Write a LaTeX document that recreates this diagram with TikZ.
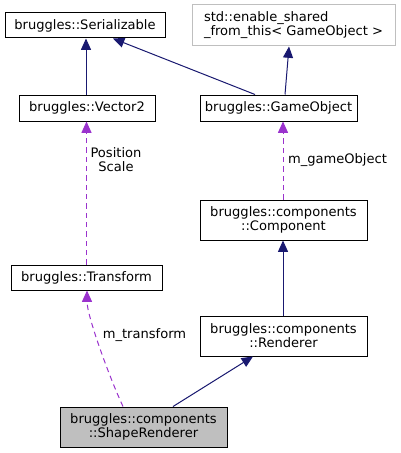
\documentclass[tikz,border=0pt]{standalone}
\usepackage{fontspec}
\setmainfont{DejaVu Sans}
\usepackage{tikz}
\usetikzlibrary{arrows.meta,positioning,calc}
\definecolor{inhnavy}{HTML}{191970}
\definecolor{usepurple}{HTML}{9A32CD}
\definecolor{extgray}{HTML}{BFBFBF}
\definecolor{selfgray}{HTML}{BFBFBF}
\newcommand{\dxfont}{\fontsize{9.8}{10.6}\selectfont}
\tikzset{
  classbox/.style={draw=black,fill=white,line width=0.75pt,inner sep=0pt,
    align=center,font=\dxfont},
  extbox/.style={classbox,draw=extgray,align=left},
  selfbox/.style={classbox,fill=selfgray},
  inherit/.style={-{Triangle[length=8.5pt,width=7.5pt]},draw=inhnavy,line width=0.75pt},
  usage/.style={-{Triangle[length=8.5pt,width=7.5pt]},draw=usepurple,line width=0.75pt,
    dash pattern=on 4pt off 3pt},
  edgelabel/.style={font=\dxfont,inner sep=0pt,align=center}
}

\begin{document}
\begin{tikzpicture}[x=0.75pt,y=-0.75pt]
\useasboundingbox (0,0) rectangle (400,453);

\node[classbox, minimum width=120pt, minimum height=18.75pt] (ser) at (85,25.5) {bruggles::Serializable};
\node[extbox, minimum width=152.25pt, minimum height=30.75pt] (enable) at (293.5,25.5) {std::enable\_shared\\\_from\_this< GameObject >};
\node[classbox, minimum width=102pt, minimum height=19.5pt] (vec) at (87,108) {bruggles::Vector2};
\node[classbox, minimum width=117.75pt, minimum height=19.5pt] (gobj) at (278.5,108) {bruggles::GameObject};
\node[classbox, minimum width=125.25pt, minimum height=30pt] (comp) at (283.5,220) {bruggles::components\\::Component};
\node[classbox, minimum width=113.25pt, minimum height=18.75pt] (trans) at (86.5,277.5) {bruggles::Transform};
\node[classbox, minimum width=125.25pt, minimum height=30pt] (rend) at (283.5,336) {bruggles::components\\::Renderer};
\node[selfbox, minimum width=125.25pt, minimum height=30pt] (shape) at (143.5,427) {bruggles::components\\::ShapeRenderer};

\node[edgelabel] (lblposscale) at (116,160) {Position\\Scale};
\node[edgelabel] (lblgobj) at (337.5,160.5) {m\_gameObject};
\node[edgelabel] (lbltrans) at (144.5,335.5) {m\_transform};

\draw[inherit] ($(vec.north)+(-1,0)$) -- ($(ser.south)+(1,0)$);
\draw[inherit] ($(gobj.north)+(-23.5,0)$) -- ($(ser.south)+(28,0)$);
\draw[inherit] ($(gobj.north)+(6.5,0)$) -- ($(enable.south)+(-4.5,0)$);
\draw[usage] (trans.north) -- ($(vec.south)+(-0.5,0)$);
\draw[usage] ($(comp.north)+(-0.5,0)$) -- ($(gobj.south)+(4.5,0)$);
\draw[inherit] ($(rend.north)+(-0.5,0)$) -- ($(comp.south)+(-0.5,0)$);
\draw[inherit] ($(shape.north)+(29.5,0)$) -- ($(rend.south)+(-30.5,0)$);
\draw[usage] ($(shape.north)+(-20.5,0)$) .. controls +(-14,-30) and +(0,25) .. ($(trans.south)+(0.5,0)$);
\end{tikzpicture}
\end{document}
